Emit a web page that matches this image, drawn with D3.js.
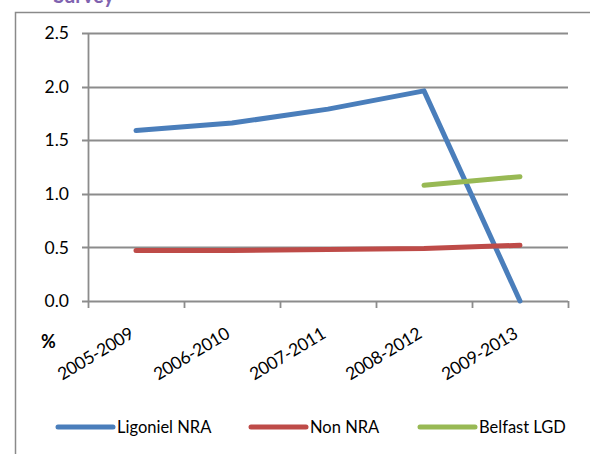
<!DOCTYPE html>
<html>
<head>
<meta charset="utf-8">
<script src="https://cdn.jsdelivr.net/npm/d3@7"></script>
<style>
  html, body { margin: 0; padding: 0; background: #fff; }
  svg { display: block; font-family: Lato, "Open Sans", sans-serif; }
</style>
</head>
<body>
<svg id="chart" width="590" height="454"></svg>
<script>
const categories = ["2005-2009", "2006-2010", "2007-2011", "2008-2012", "2009-2013"];
const ligonielNRA = [1.59, 1.66, 1.79, 1.96, 0.0];
const nonNRA = [0.47, 0.47, 0.48, 0.49, 0.52];
const belfastLGD = [null, null, null, 1.08, 1.16];
const yTicks = [0, 0.5, 1.0, 1.5, 2.0, 2.5];
const seriesNames = ["Ligoniel NRA", "Non NRA", "Belfast LGD"];
const seriesColors = ["#4a7ebb", "#be4b48", "#98b954"];

const svg = d3.select("#chart");
const plot = { left: 88, right: 568, top: 33, bottom: 301 };

// cut-off title fragment above the frame
svg.append("text").attr("x", 114).attr("y", 3).attr("text-anchor", "end")
  .attr("font-size", 20).attr("font-weight", "bold").attr("fill", "#7f63b0").text("Survey");

// chart frame
svg.append("path").attr("d", "M15.5,460 V12.5 H600")
  .attr("fill", "none").attr("stroke", "#8a8a8a").attr("stroke-width", 1.5);

const x = d3.scaleBand().domain(categories).range([plot.left, plot.right]).paddingInner(0).paddingOuter(0);
const cx = c => x(c) + x.bandwidth() / 2;
const y = d3.scaleLinear().domain([0, 2.5]).range([plot.bottom, plot.top]);

// gridlines
svg.append("g").selectAll("line").data(yTicks).join("line")
  .attr("x1", plot.left - 6).attr("x2", plot.right)
  .attr("y1", d => Math.round(y(d)) + 0.5).attr("y2", d => Math.round(y(d)) + 0.5)
  .attr("stroke", "#8c8c8c").attr("stroke-width", 1.8);

// y axis line
svg.append("line").attr("x1", plot.left + 0.5).attr("x2", plot.left + 0.5)
  .attr("y1", plot.top).attr("y2", plot.bottom + 1)
  .attr("stroke", "#8c8c8c").attr("stroke-width", 1.8);

// y labels
svg.append("g").selectAll("text").data(yTicks).join("text")
  .attr("x", 69).attr("y", d => y(d)).attr("dy", "0.35em")
  .attr("text-anchor", "end").attr("font-size", 17.5).attr("fill", "#000")
  .text(d3.format(".1f"));

// x tick marks at band boundaries
const bounds = categories.map(c => x(c)).concat([plot.right]);
svg.append("g").selectAll("line").data(bounds).join("line")
  .attr("x1", d => Math.round(d) + 0.5).attr("x2", d => Math.round(d) + 0.5)
  .attr("y1", plot.bottom).attr("y2", plot.bottom + 7)
  .attr("stroke", "#8c8c8c").attr("stroke-width", 1.8);

// x labels rotated
svg.append("g").selectAll("text").data(categories).join("text")
  .attr("transform", c => `translate(${cx(c) - 1},${plot.bottom + 36}) rotate(-31)`)
  .attr("text-anchor", "end").attr("font-size", 17.5).attr("fill", "#000")
  .attr("letter-spacing", -0.3)
  .text(c => c);

// % label
svg.append("text").attr("x", 41).attr("y", 348).attr("font-size", 18)
  .attr("font-weight", "bold").attr("fill", "#000").text("%");

// series lines
const allSeries = [ligonielNRA, nonNRA, belfastLGD];
const line = d3.line()
  .defined(d => d.v !== null)
  .x(d => cx(d.c)).y(d => y(d.v))
  .curve(d3.curveLinear);
allSeries.forEach((vals, i) => {
  const data = categories.map((c, j) => ({ c, v: vals[j] }));
  svg.append("path").datum(data).attr("d", line)
    .attr("fill", "none").attr("stroke", seriesColors[i]).attr("stroke-width", 5)
    .attr("stroke-linecap", "round").attr("stroke-linejoin", "round");
});

// legend
const legendX = [58, 251, 420];
const leg = svg.append("g").selectAll("g").data(seriesNames).join("g")
  .attr("transform", (d, i) => `translate(${legendX[i]},427)`);
leg.append("line").attr("x1", 0).attr("x2", 55).attr("y1", 0).attr("y2", 0)
  .attr("stroke", (d, i) => seriesColors[i]).attr("stroke-width", 5).attr("stroke-linecap", "round");
leg.append("text").attr("x", 59).attr("y", 0).attr("dy", "0.35em")
  .attr("font-size", 16.5).attr("fill", "#000").text(d => d);
</script>
</body>
</html>
